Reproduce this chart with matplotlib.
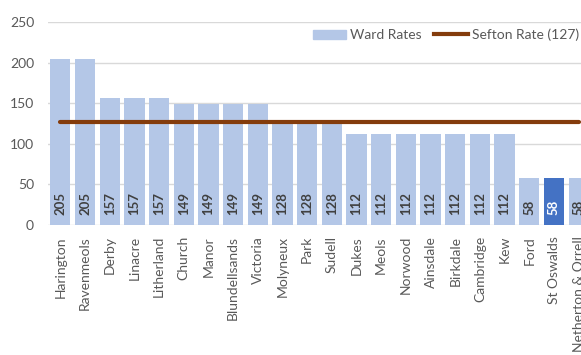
import matplotlib.pyplot as plt
from matplotlib.patches import Patch
from matplotlib.lines import Line2D

plt.rcParams['font.family'] = ['Lato', 'DejaVu Sans']

wards = ['Harington', 'Ravenmeols', 'Derby', 'Linacre', 'Litherland', 'Church',
         'Manor', 'Blundellsands', 'Victoria', 'Molyneux', 'Park', 'Sudell',
         'Dukes', 'Meols', 'Norwood', 'Ainsdale', 'Birkdale', 'Cambridge', 'Kew',
         'Ford', 'St Oswalds', 'Netherton & Orrell']
rates = [205, 205, 157, 157, 157, 149, 149, 149, 149, 128, 128, 128,
         112, 112, 112, 112, 112, 112, 112, 58, 58, 58]
sefton_rate = 127
highlight = 'St Oswalds'

light = '#B4C7E7'
dark = '#4472C4'
line_col = '#843C0C'
grey = '#595959'

fig = plt.figure(figsize=(5.81, 3.55), dpi=100)
# plot area runs a little past the right edge, so the last ward is clipped
ax = fig.add_axes([48 / 581, 130 / 355, 543 / 581, 203 / 355])

x = list(range(len(wards)))
colors = [dark if w == highlight else light for w in wards]
ax.bar(x, rates, width=0.82, color=colors, zorder=2)
ax.plot([0, len(wards) - 1], [sefton_rate, sefton_rate], color=line_col, lw=3, zorder=3,
        solid_capstyle='round')

for xi, (w, r) in enumerate(zip(wards, rates)):
    ax.annotate(str(r), (xi, 0), xytext=(0, 7), textcoords='offset points',
                rotation=90, ha='center', va='bottom', fontsize=9.5, fontweight='bold',
                color='white' if w == highlight else '#404040')

ax.set_xlim(-0.5, len(wards) - 0.5)
ax.set_ylim(0, 250)
ax.set_yticks(range(0, 251, 50))
ax.set_xticks(x)
ax.set_xticklabels(wards, rotation=90, fontsize=10, color=grey)
ax.tick_params(axis='y', labelsize=10, labelcolor=grey, length=0, pad=10)
ax.tick_params(axis='x', length=0, pad=8)
ax.grid(axis='y', color='#D9D9D9', lw=1, zorder=0)
for s in ax.spines.values():
    s.set_visible(False)

handles = [Patch(color=light), Line2D([0], [0], color=line_col, lw=3)]
fig.legend(handles, ['Ward Rates', 'Sefton Rate (127)'], loc='center right',
           bbox_to_anchor=(579 / 581, 1 - 35 / 355), ncol=2, frameon=False, fontsize=10,
           labelcolor=grey, handlelength=2.4, handletextpad=0.3, columnspacing=0.9,
           borderaxespad=0, borderpad=0)

fig.savefig('out.png', dpi=100)
